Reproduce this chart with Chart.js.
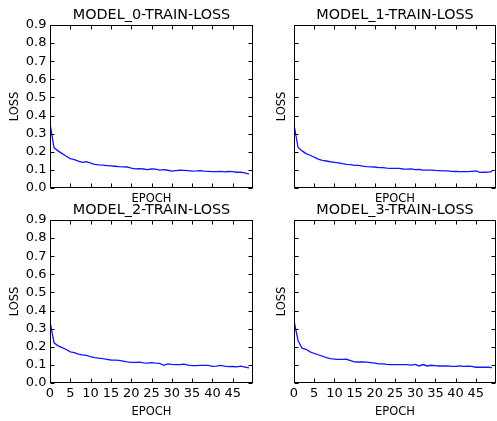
<!DOCTYPE html>
<html>
<head>
<meta charset="utf-8">
<script src="https://cdn.jsdelivr.net/npm/chart.js@4/dist/chart.umd.min.js"></script>
<style>
  html, body { margin: 0; padding: 0; background: #fff; }
  #wrap { position: relative; width: 497px; height: 421px; overflow: hidden; }
  .cell { position: absolute; left: 0; top: 0; width: 497px; height: 421px; }
</style>
</head>
<body>
<div id="wrap">
  <div class="cell"><canvas id="c0"></canvas></div>
  <div class="cell"><canvas id="c1"></canvas></div>
  <div class="cell"><canvas id="c2"></canvas></div>
  <div class="cell"><canvas id="c3"></canvas></div>
</div>
<script>
// ---- data ----
const epochs = [0,1,2,3,4,5,6,7,8,9,10,11,12,13,14,15,16,17,18,19,20,21,22,23,24,25,26,27,28,29,30,31,32,33,34,35,36,37,38,39,40,41,42,43,44,45,46,47,48,49];
const titles = ["MODEL_0-TRAIN-LOSS", "MODEL_1-TRAIN-LOSS", "MODEL_2-TRAIN-LOSS", "MODEL_3-TRAIN-LOSS"];
const model0Loss = [0.355,0.222,0.205,0.190,0.175,0.162,0.157,0.148,0.142,0.145,0.137,0.131,0.128,0.126,0.124,0.122,0.120,0.118,0.117,0.116,0.110,0.106,0.107,0.105,0.102,0.105,0.104,0.099,0.101,0.098,0.093,0.096,0.098,0.097,0.096,0.093,0.094,0.096,0.093,0.092,0.090,0.090,0.092,0.089,0.091,0.090,0.087,0.087,0.083,0.077];
const model1Loss = [0.350,0.225,0.205,0.190,0.181,0.170,0.160,0.153,0.149,0.145,0.142,0.139,0.134,0.131,0.129,0.125,0.125,0.121,0.118,0.117,0.116,0.113,0.113,0.110,0.108,0.108,0.108,0.105,0.104,0.105,0.101,0.102,0.099,0.099,0.099,0.097,0.096,0.095,0.094,0.092,0.091,0.090,0.090,0.090,0.092,0.094,0.086,0.087,0.088,0.090];
const model2Loss = [0.340,0.222,0.205,0.195,0.185,0.172,0.168,0.160,0.155,0.153,0.145,0.140,0.137,0.135,0.131,0.127,0.126,0.125,0.121,0.117,0.114,0.114,0.115,0.111,0.110,0.113,0.110,0.108,0.098,0.106,0.103,0.101,0.102,0.104,0.099,0.096,0.096,0.097,0.097,0.097,0.092,0.093,0.097,0.093,0.090,0.091,0.089,0.093,0.088,0.083];
const model3Loss = [0.345,0.235,0.192,0.186,0.172,0.163,0.156,0.149,0.140,0.134,0.132,0.130,0.130,0.131,0.124,0.117,0.116,0.116,0.115,0.113,0.110,0.106,0.106,0.103,0.101,0.101,0.101,0.101,0.101,0.099,0.103,0.094,0.102,0.094,0.098,0.096,0.094,0.094,0.094,0.092,0.092,0.094,0.092,0.093,0.092,0.087,0.087,0.087,0.087,0.085];
const xTickValues = [0,5,10,15,20,25,30,35,40,45];
const yTickValues = [0,0.1,0.2,0.3,0.4,0.5,0.6,0.7,0.8,0.9];
const yTickLabels = ["0.0","0.1","0.2","0.3","0.4","0.5","0.6","0.7","0.8","0.9"];
const series = [model0Loss, model1Loss, model2Loss, model3Loss];

// ---- layout (pixel boxes of each plot area) ----
const W = 497, H = 421;
const areas = [
  {l: 50,  t: 25,  r: 253, b: 188, showY: true,  showX: false},
  {l: 294, t: 25,  r: 496, b: 188, showY: false, showX: false},
  {l: 50,  t: 220, r: 253, b: 383, showY: true,  showX: true},
  {l: 294, t: 220, r: 496, b: 383, showY: false, showX: true}
];

Chart.defaults.font.family = "'DejaVu Sans', sans-serif";
Chart.defaults.color = '#000';

const frameAndTicks = {
  id: 'frameAndTicks',
  afterDraw(chart) {
    const ctx = chart.ctx;
    const a = chart.chartArea;
    const xs = chart.scales.x, ys = chart.scales.y;
    const L = Math.round(a.left) + 0.5, R = Math.round(a.right) - 0.5;
    const T = Math.round(a.top) + 0.5, B = Math.round(a.bottom) - 0.5;
    const len = 4;
    ctx.save();
    ctx.strokeStyle = '#000';
    ctx.lineWidth = 1;
    ctx.beginPath();
    xs.ticks.forEach(tk => {
      const px = Math.round(xs.getPixelForValue(tk.value)) + 0.5;
      ctx.moveTo(px, B); ctx.lineTo(px, B - len);
      ctx.moveTo(px, T); ctx.lineTo(px, T + len);
    });
    ys.ticks.forEach(tk => {
      const py = Math.round(ys.getPixelForValue(tk.value)) + 0.5;
      ctx.moveTo(L, py); ctx.lineTo(L + len, py);
      ctx.moveTo(R, py); ctx.lineTo(R - len, py);
    });
    ctx.stroke();
    ctx.strokeRect(L, T, R - L, B - T);
    ctx.restore();
  }
};

function makeChart(i) {
  const A = areas[i];
  const yW = A.showY ? 50 : 20;
  const xH = A.showX ? 38 : 18.2;
  const titleLH = 14.4 * 1.2;
  const topPad = A.t - 25;
  const data = epochs.map((e, k) => ({x: e, y: series[i][k]}));
  new Chart(document.getElementById('c' + i), {
    type: 'line',
    data: {
      datasets: [{
        data: data,
        borderColor: 'rgb(20,20,255)',
        borderWidth: 1.3,
        pointRadius: 0,
        fill: false,
        tension: 0
      }]
    },
    options: {
      responsive: true,
      maintainAspectRatio: false,
      animation: false,
      events: [],
      layout: {
        padding: {left: A.l - yW, right: W - A.r, top: topPad, bottom: H - A.b - xH}
      },
      plugins: {
        legend: {display: false},
        tooltip: {enabled: false},
        title: {
          display: true,
          text: titles[i],
          fullSize: false,
          color: '#000',
          font: {size: 14.4, weight: 'normal', lineHeight: 1.2},
          padding: {top: 6.4, bottom: 25 - titleLH - 6.4}
        }
      },
      scales: {
        x: {
          type: 'linear',
          min: 0,
          max: 50,
          grid: {display: false, drawTicks: false},
          border: {display: false},
          afterBuildTicks: s => { s.ticks = xTickValues.map(v => ({value: v})); },
          afterFit: s => { s.height = xH; },
          ticks: {
            display: A.showX,
            padding: 2.8,
            maxRotation: 0,
            autoSkip: false,
            font: {size: 13},
            callback: v => String(v)
          },
          title: {
            display: true,
            text: 'EPOCH',
            font: {size: 11.5, lineHeight: 1.2},
            padding: {top: 0, bottom: A.showX ? 2.1 : 0}
          }
        },
        y: {
          type: 'linear',
          min: 0,
          max: 0.9,
          grid: {display: false, drawTicks: false},
          border: {display: false},
          afterBuildTicks: s => { s.ticks = yTickValues.map(v => ({value: v})); },
          afterFit: s => { s.width = yW; },
          ticks: {
            display: A.showY,
            padding: 3.5,
            autoSkip: false,
            font: {size: 13},
            callback: (v, idx) => yTickLabels[idx]
          },
          title: {
            display: true,
            text: 'LOSS',
            font: {size: 11.5, lineHeight: 1.2},
            padding: {top: A.showY ? 8.1 : 1.1, bottom: 0}
          }
        }
      }
    },
    plugins: [frameAndTicks]
  });
}
for (let i = 0; i < 4; i++) makeChart(i);
</script>
</body>
</html>
